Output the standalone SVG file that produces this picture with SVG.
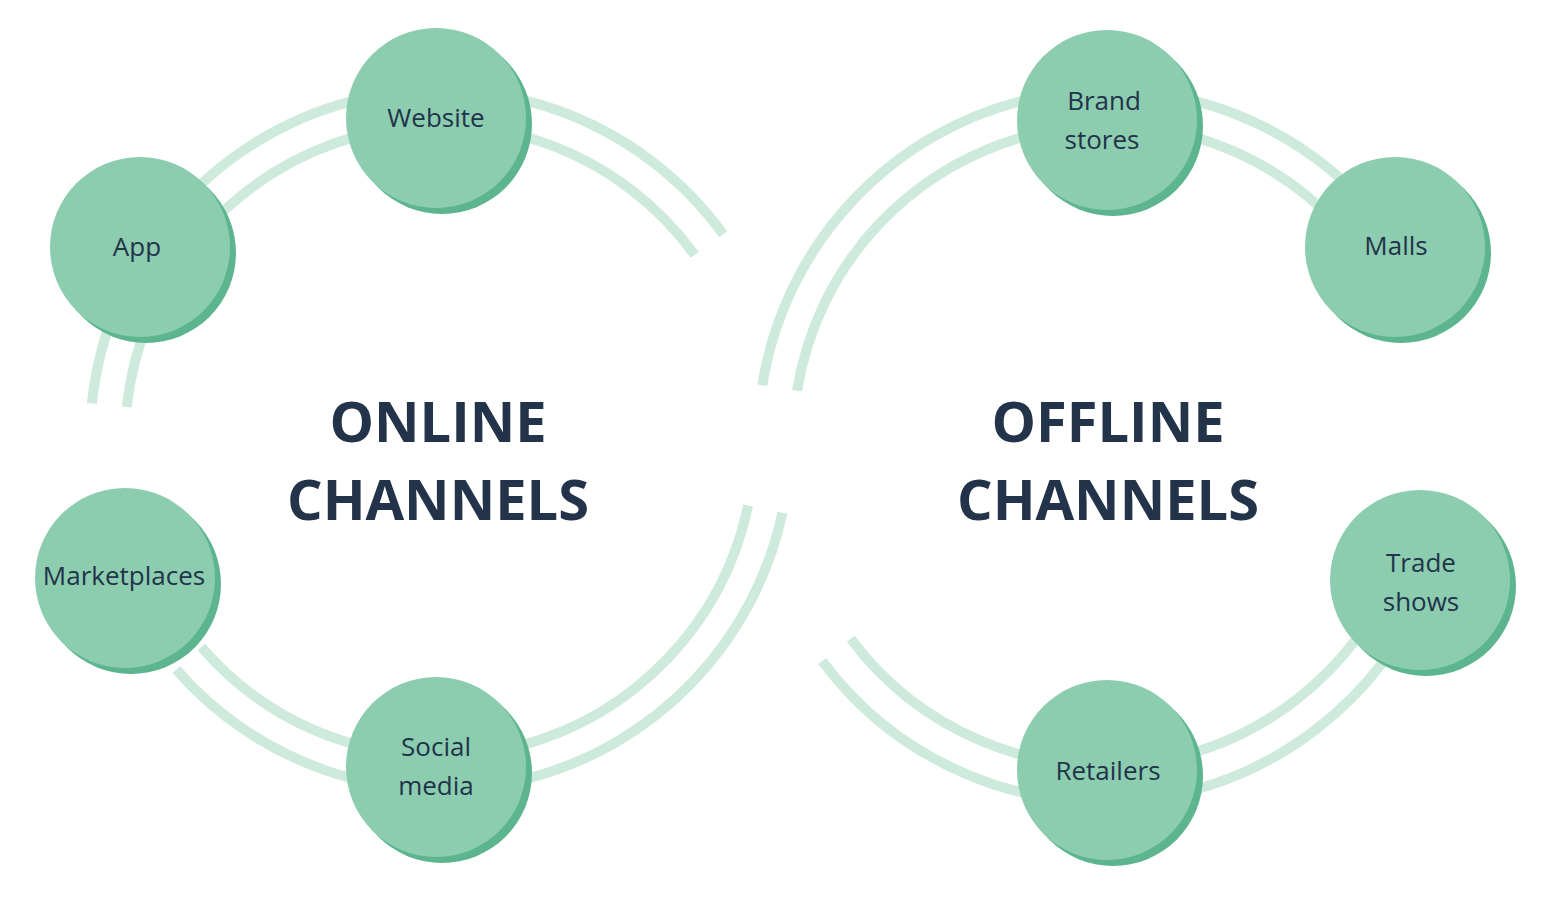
<svg xmlns="http://www.w3.org/2000/svg" width="1544" height="900" viewBox="0 0 1544 900">
<style>
.arc{fill:none;stroke:#cdeadd;stroke-width:10}
.sh{fill:#5cb58f}
.nd{fill:#8ccdb0}
.t{font-family:"Open Sans","Liberation Sans",sans-serif;font-size:26px;fill:#22334a;text-anchor:middle}
.h{font-family:"Open Sans","Liberation Sans",sans-serif;font-size:56px;font-weight:bold;fill:#22334a;text-anchor:middle}
</style>
<rect width="1544" height="900" fill="#fff"/>
<g id="connectors">
<path class="arc" d="M723.2,234.3 A350,350 0 0 0 91.9,403.4"/>
<path class="arc" d="M694.8,254.9 A315,315 0 0 0 126.7,407.1"/>
<path class="arc" d="M176.3,669.6 A350,350 0 0 0 782.4,512.8"/>
<path class="arc" d="M201.3,647.0 A315,315 0 0 0 748.1,505.5"/>
<path class="arc" d="M762.3,385.3 A350,350 0 0 1 1398.1,244.3"/>
<path class="arc" d="M797.1,390.7 A315,315 0 0 1 1369.2,263.9"/>
<path class="arc" d="M1427.6,582.3 A350,350 0 0 1 822.2,660.9"/>
<path class="arc" d="M1395.7,568.1 A315,315 0 0 1 850.8,638.8"/>
</g>
<g id="title-online"><text class="h" x="438" y="442">ONLINE</text><text class="h" x="438" y="520">CHANNELS</text></g>
<g id="title-offline"><text class="h" x="1108" y="442">OFFLINE</text><text class="h" x="1108" y="520">CHANNELS</text></g>
<g id="website"><circle class="sh" cx="442" cy="124" r="90"/><circle class="nd" cx="436" cy="118" r="90"/><text class="t" x="436" y="127">Website</text></g>
<g id="app"><circle class="sh" cx="146" cy="253" r="90"/><circle class="nd" cx="140" cy="247" r="90"/><text class="t" x="137" y="256">App</text></g>
<g id="marketplaces"><circle class="sh" cx="131" cy="584" r="90"/><circle class="nd" cx="125" cy="578" r="90"/><text class="t" x="124" y="585">Marketplaces</text></g>
<g id="social-media"><circle class="sh" cx="442" cy="773" r="90"/><circle class="nd" cx="436" cy="767" r="90"/><text class="t" x="436" y="756">Social</text><text class="t" x="436" y="795">media</text></g>
<g id="brand-stores"><circle class="sh" cx="1113" cy="126" r="90"/><circle class="nd" cx="1107" cy="120" r="90"/><text class="t" x="1104" y="110">Brand</text><text class="t" x="1102" y="149">stores</text></g>
<g id="malls"><circle class="sh" cx="1401" cy="253" r="90"/><circle class="nd" cx="1395" cy="247" r="90"/><text class="t" x="1396" y="255">Malls</text></g>
<g id="trade-shows"><circle class="sh" cx="1426" cy="586" r="90"/><circle class="nd" cx="1420" cy="580" r="90"/><text class="t" x="1421" y="572">Trade</text><text class="t" x="1421" y="611">shows</text></g>
<g id="retailers"><circle class="sh" cx="1113" cy="776" r="90"/><circle class="nd" cx="1107" cy="770" r="90"/><text class="t" x="1108" y="780">Retailers</text></g>
</svg>
